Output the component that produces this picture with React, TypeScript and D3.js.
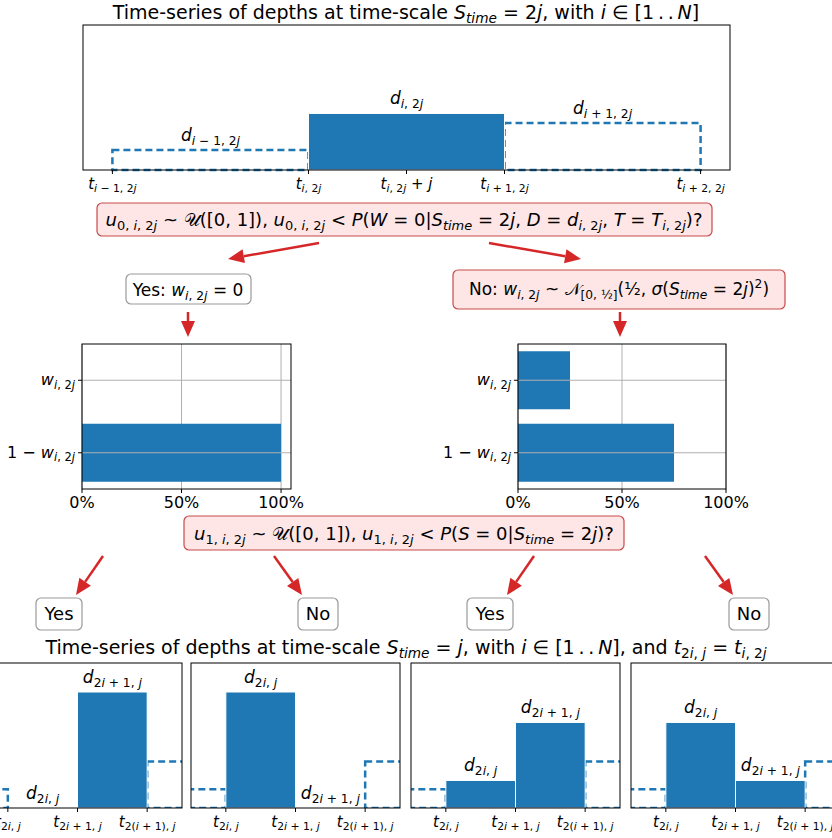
import React from "react";
import * as d3 from "d3";

const BLUE = "#1f77b4";
const RED = "#d62728";
const FONT = "DejaVu Sans";

// ---- data ----
const topTickPos = [0, 1, 1.5, 2, 3];
const topTickLabels = ["$t_{i - 1, 2j}$", "$t_{i, 2j}$", "$t_{i, 2j} + j$", "$t_{i + 1, 2j}$", "$t_{i + 2, 2j}$"];
const topBarStarts = [0, 1, 2];
const topBarValues = [0.138, 0.39, 0.324];
const topBarLabels = ["$d_{i - 1, 2j}$", "$d_{i, 2j}$", "$d_{i + 1, 2j}$"];
const topBarSolid = [false, true, false];

const weightCats = ["$1 - w_{i, 2j}$", "$w_{i, 2j}$"];
const weightsYes = [1.0, 0.0];
const weightsNo = [0.75, 0.25];
const pctTicks = [0, 0.5, 1];

const botTickPos = [0, 1, 2];
const botTickLabels = ["$t_{2i, j}$", "$t_{2i + 1, j}$", "$t_{2(i + 1), j}$"];
const botLabels = ["$d_{2i, j}$", "$d_{2i + 1, j}$"];
const botPrev = [0.13, 0.13, 0.13, 0.13];
const botNext = [0.32, 0.32, 0.32, 0.32];
const botFirst = [0.0, 0.8, 0.19, 0.59];
const botSecond = [0.8, 0.0, 0.59, 0.19];

type Seg = { t: string; it: boolean; lvl: number };
function parse(s: string): Seg[] {
  const segs: Seg[] = [];
  let math = false;
  const stack: number[] = [];
  let lvl = 0;
  const add = (c: string, it: boolean) => {
    const last = segs[segs.length - 1];
    if (last && last.it === it && last.lvl === lvl) last.t += c;
    else segs.push({ t: c, it, lvl });
  };
  for (let i = 0; i < s.length; i++) {
    const c = s[i];
    if (c === "$") { math = !math; continue; }
    if (math && (c === "_" || c === "^") && s[i + 1] === "{") {
      stack.push(lvl);
      lvl = c === "_" ? (lvl === 1 ? 3 : 1) : 2;
      i++;
      continue;
    }
    if (math && c === "}") { lvl = stack.pop() ?? 0; continue; }
    let ch = c;
    if (math && c === "-") ch = "\u2212";
    add(ch, math && /[A-Za-z\u03b1-\u03c9]/.test(c));
  }
  return segs;
}

const off = (l: number, size: number) => (l === 1 ? 0.22 * size : l === 2 ? -0.42 * size : l === 3 ? 0.45 * size : 0);

function MText({ x, y, s, size = 15, anchor = "middle" }: { x: number; y: number; s: string; size?: number; anchor?: string }) {
  const segs = parse(s);
  let cur = 0;
  return (
    <text x={x} y={y} fontSize={size} fontFamily={FONT} textAnchor={anchor as any} fill="#000">
      {segs.map((g, k) => {
        const o = off(g.lvl, size);
        const dy = o - cur;
        cur = o;
        const fs = g.lvl === 0 ? size : g.lvl === 3 ? size * 0.55 : size * 0.72;
        return (
          <tspan key={k} dy={dy} fontSize={fs} fontStyle={g.it ? "italic" : "normal"} style={{ whiteSpace: "pre" }}>
            {g.t}
          </tspan>
        );
      })}
    </text>
  );
}

function Box({ x, y, w, h, pink, children }: any) {
  return (
    <g>
      <rect x={x} y={y} width={w} height={h} rx={5} fill={pink ? "#fee6e6" : "#fff"} stroke={pink ? "#c84a4a" : "#999"} strokeWidth={1.2} />
      {children}
    </g>
  );
}

function Arrow({ x1, y1, x2, y2 }: { x1: number; y1: number; x2: number; y2: number }) {
  const a = Math.atan2(y2 - y1, x2 - x1);
  const L = 16, W = 7;
  const bx = x2 - L * Math.cos(a), by = y2 - L * Math.sin(a);
  const px = -Math.sin(a) * W, py = Math.cos(a) * W;
  return (
    <g>
      <line x1={x1} y1={y1} x2={bx} y2={by} stroke={RED} strokeWidth={2.5} />
      <path d={`M${x2},${y2}L${bx + px},${by + py}L${bx - px},${by - py}Z`} fill={RED} />
    </g>
  );
}

function TopPanel() {
  const L = 83, R = 730, T = 25, B = 170;
  const x = d3.scaleLinear().domain([-0.15, 3.15]).range([L, R]);
  const y = d3.scaleLinear().domain([0, 1]).range([B, T]);
  return (
    <g>
      {topBarStarts.map((s, k) =>
        topBarSolid[k] ? null : (
          <rect key={"d" + k} x={x(s)} y={y(topBarValues[k])} width={x(s + 1) - x(s)} height={B - y(topBarValues[k])} fill="none" stroke={BLUE} strokeWidth={2.5} strokeDasharray="7,4" />
        )
      )}
      {topBarStarts.map((s, k) =>
        topBarSolid[k] ? (
          <rect key={"s" + k} x={x(s)} y={y(topBarValues[k])} width={x(s + 1) - x(s)} height={B - y(topBarValues[k])} fill={BLUE} stroke="#fff" strokeWidth={1} />
        ) : null
      )}
      {topBarStarts.map((s, k) => (
        <MText key={"l" + k} x={x(s + 0.5)} y={y(topBarValues[k]) - 9} s={topBarLabels[k]} size={17} />
      ))}
      <rect x={L} y={T} width={R - L} height={B - T} fill="none" stroke="#000" strokeWidth={1} />
      {topTickPos.map((t, k) => (
        <g key={k}>
          <line x1={x(t)} x2={x(t)} y1={B} y2={B + 4} stroke="#000" />
          <MText x={x(t)} y={B + 19} s={topTickLabels[k]} size={15} />
        </g>
      ))}
    </g>
  );
}

function WeightPanel({ L, R, dmax, vals }: { L: number; R: number; dmax: number; vals: number[] }) {
  const T = 344, B = 489;
  const x = d3.scaleLinear().domain([0, dmax]).range([L, R]);
  const y = d3.scaleLinear().domain([-0.5, 1.5]).range([B, T]);
  return (
    <g>
      {pctTicks.map((t) => (
        <line key={t} x1={x(t)} x2={x(t)} y1={T} y2={B} stroke="#b0b0b0" strokeWidth={1} />
      ))}
      {vals.map((v, k) => (
        <rect key={k} x={x(0)} y={y(k + 0.4)} width={x(v) - x(0)} height={y(k - 0.4) - y(k + 0.4)} fill={BLUE} />
      ))}
      {weightCats.map((c, k) => (
        <g key={c}>
          <line x1={L} x2={R} y1={y(k)} y2={y(k)} stroke="#b0b0b0" strokeWidth={1} />
          <line x1={L - 4} x2={L} y1={y(k)} y2={y(k)} stroke="#000" />
          <MText x={L - 7} y={y(k) + 5} s={c} size={16} anchor="end" />
        </g>
      ))}
      <rect x={L} y={T} width={R - L} height={B - T} fill="none" stroke="#000" strokeWidth={1} />
      {pctTicks.map((t) => (
        <g key={t}>
          <line x1={x(t)} x2={x(t)} y1={B} y2={B + 4} stroke="#000" />
          <text x={x(t)} y={B + 19} fontSize={16} fontFamily={FONT} textAnchor="middle">{d3.format(".0%")(t)}</text>
        </g>
      ))}
    </g>
  );
}

function BotPanel({ L, k }: { L: number; k: number }) {
  const W = 209, T = 663, B = 808;
  const x = d3.scaleLinear().domain([-0.5, 2.5]).range([L, L + W]);
  const y = d3.scaleLinear().domain([0, 1]).range([B, T]);
  const vals = [botFirst[k], botSecond[k]];
  return (
    <g>
      <defs>
        <clipPath id={"c" + k}><rect x={L} y={T} width={W} height={B - T} /></clipPath>
      </defs>
      <g clipPath={`url(#c${k})`}>
        <rect x={x(-1.5)} y={y(botPrev[k])} width={x(0) - x(-1.5)} height={B - y(botPrev[k])} fill="none" stroke={BLUE} strokeWidth={2.5} strokeDasharray="7,4" />
        <rect x={x(2)} y={y(botNext[k])} width={x(3.5) - x(2)} height={B - y(botNext[k])} fill="none" stroke={BLUE} strokeWidth={2.5} strokeDasharray="7,4" />
        {vals.map((v, i) => (
          <rect key={i} x={x(i)} y={y(v)} width={x(i + 1) - x(i)} height={B - y(v)} fill={BLUE} stroke="#fff" strokeWidth={1} />
        ))}
        {vals.map((v, i) => (
          <MText key={"l" + i} x={x(i + 0.5)} y={y(v) - 9} s={botLabels[i]} size={17} />
        ))}
      </g>
      <rect x={L} y={T} width={W} height={B - T} fill="none" stroke="#000" strokeWidth={1} />
      {botTickPos.map((t, i) => (
        <g key={i}>
          <line x1={x(t)} x2={x(t)} y1={B} y2={B + 4} stroke="#000" />
          <MText x={x(t)} y={B + 19} s={botTickLabels[i]} size={15} />
        </g>
      ))}
    </g>
  );
}

export default function App() {
  return (
    <svg width={832} height={838} style={{ position: "absolute", left: 0, top: 0, background: "#fff" }}>
      <rect width={832} height={838} fill="#fff" />
      <MText x={406} y={19} s={"Time-series of depths at time-scale $S_{time} = 2j$, with $i \u2208 [1\u2009.\u2009.\u2009N]$"} size={19} />
      <TopPanel />
      <Box x={97} y={203} w={615} h={33} pink>
        <MText x={404} y={226} s={"$u_{0, i, 2j}$ ~ \u{1D4B0}([0, 1]), $u_{0, i, 2j} < P(W = 0|S_{time} = 2j, D = d_{i, 2j}, T = T_{i, 2j})$?"} size={18} />
      </Box>
      <Arrow x1={319} y1={243} x2={228} y2={259} />
      <Arrow x1={489} y1={243} x2={581} y2={259} />
      <Box x={126} y={274} w={125} h={30}>
        <MText x={188} y={296} s="Yes: $w_{i, 2j} = 0$" size={17} />
      </Box>
      <Box x={453} y={270} w={332} h={39} pink>
        <MText x={619} y={295} s={"No: $w_{i, 2j}$ ~ \u{1D4A9}$_{[0, \u00bd]}$(\u00bd, $\u03c3(S_{time} = 2j)^{2}$)"} size={17} />
      </Box>
      <Arrow x1={188} y1={312} x2={188} y2={337} />
      <Arrow x1={620} y1={312} x2={620} y2={337} />
      <WeightPanel L={82} R={291} dmax={1.05} vals={weightsYes} />
      <WeightPanel L={518} R={726} dmax={1.0} vals={weightsNo} />
      <Box x={184} y={516} w={440} h={34} pink>
        <MText x={404} y={540} s={"$u_{1, i, 2j}$ ~ \u{1D4B0}([0, 1]), $u_{1, i, 2j} < P(S = 0|S_{time} = 2j)$?"} size={18} />
      </Box>
      <Arrow x1={103} y1={556} x2={76} y2={595} />
      <Arrow x1={274} y1={556} x2={302} y2={595} />
      <Arrow x1={534} y1={556} x2={507} y2={595} />
      <Arrow x1={705} y1={556} x2={733} y2={595} />
      {[
        [36, 46, "Yes"],
        [298, 40, "No"],
        [467, 46, "Yes"],
        [729, 40, "No"],
      ].map(([x, w, t]: any) => (
        <Box key={x} x={x} y={598} w={w} h={32}>
          <text x={x + w / 2} y={620} fontSize={18} fontFamily={FONT} textAnchor="middle">{t}</text>
        </Box>
      ))}
      <MText x={406} y={654} s={"Time-series of depths at time-scale $S_{time} = j$, with $i \u2208 [1\u2009.\u2009.\u2009N]$, and $t_{2i, j} = t_{i, 2j}$"} size={19} />
      {[-27, 191, 411, 631].map((L, k) => (
        <BotPanel key={k} L={L} k={k} />
      ))}
    </svg>
  );
}
